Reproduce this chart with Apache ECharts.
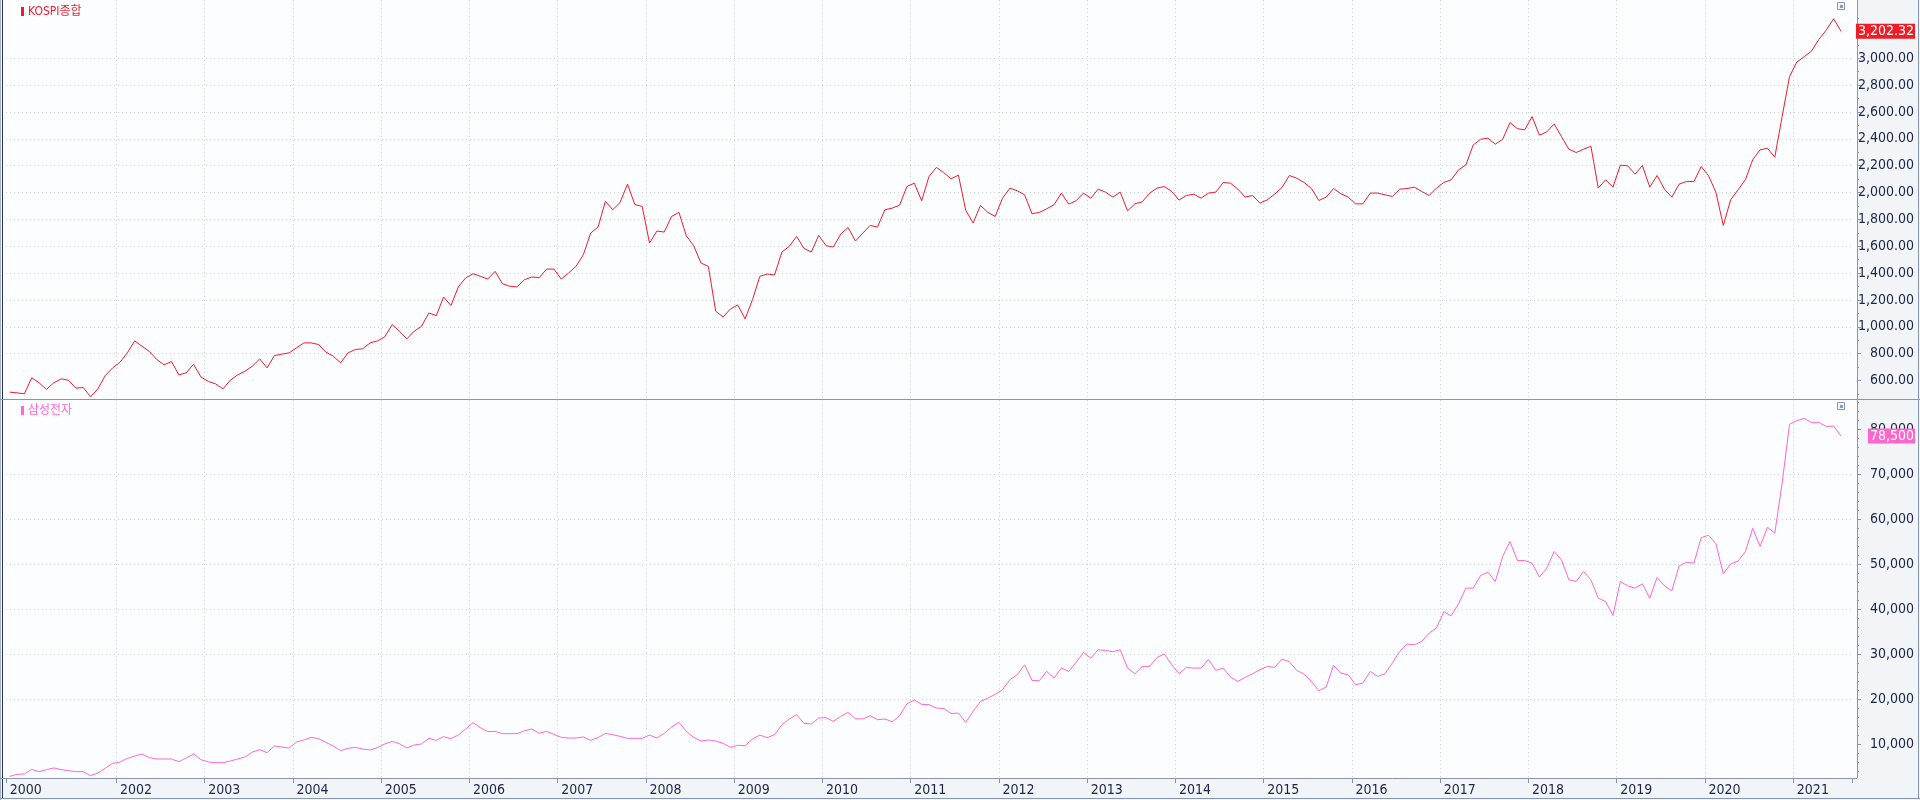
<!DOCTYPE html>
<html><head><meta charset="utf-8">
<script src="https://cdn.jsdelivr.net/npm/echarts@6/dist/echarts.min.js"></script>
<style>html,body{margin:0;padding:0;background:#f2f5f7}#c{width:1920px;height:800px}</style>
</head><body><div id="c"></div>
<script>
// ---- data (monthly closes, Oct 2000 .. Jul 2021) ----
const startYear = 2000, startMonth = 10, monthCount = 251; // one trailing empty month on the axis
const months = [];
for (let i = 0; i < monthCount; i++) { const t = startMonth - 1 + i; months.push((startYear + Math.floor(t / 12)) + '-' + String(t % 12 + 1).padStart(2, '0')); }

const kospi = [
  513, 508, 501,
  620, 583, 533, 583, 612, 602, 543, 548, 479, 538, 637, 694,
  736, 806, 895, 855, 816, 756, 717, 741, 642, 657, 721, 627,
  593, 575, 538, 602, 642, 669, 707, 761, 694, 786, 796, 806,
  843, 880, 880, 868, 811, 781, 731, 806, 831, 836, 880, 895,
  925, 1016, 967, 910, 967, 1004, 1103, 1083, 1222, 1158, 1297, 1364,
  1396, 1376, 1356, 1413, 1321, 1302, 1297, 1351, 1371, 1366, 1430, 1430,
  1356, 1401, 1450, 1537, 1698, 1743, 1934, 1872, 1926, 2063, 1911, 1897,
  1624, 1713, 1706, 1822, 1852, 1678, 1604, 1475, 1450, 1116, 1073, 1133,
  1163, 1059, 1202, 1376, 1393, 1386, 1557, 1599, 1673, 1584, 1557, 1681,
  1604, 1594, 1691, 1740, 1639, 1698, 1755, 1743, 1872, 1884, 1906, 2045,
  2070, 1939, 2120, 2187, 2149, 2102, 2130, 1867, 1773, 1904, 1852, 1822,
  1958, 2033, 2013, 1983, 1842, 1852, 1879, 1909, 1996, 1914, 1939, 1996,
  1958, 2025, 2003, 1966, 2003, 1864, 1916, 1931, 1996, 2033, 2045, 2008,
  1944, 1978, 1988, 1958, 1996, 2003, 2075, 2070, 2025, 1966, 1978, 1921,
  1946, 1988, 2038, 2127, 2107, 2075, 2030, 1941, 1966, 2030, 1991, 1966,
  1916, 1916, 1996, 1996, 1983, 1971, 2025, 2030, 2040, 2008, 1978, 2033,
  2075, 2095, 2169, 2206, 2355, 2397, 2405, 2360, 2397, 2521, 2476, 2467,
  2566, 2427, 2452, 2511, 2417, 2323, 2298, 2323, 2345, 2033, 2095, 2040,
  2204, 2199, 2137, 2201, 2040, 2127, 2025, 1966, 2063, 2082, 2082, 2194,
  2125, 2001, 1755, 1946, 2020, 2095, 2244, 2318, 2330, 2263, 2566, 2863,
  2972, 3012, 3054, 3141, 3210, 3295, 3202.32
];
const samsung = [
  2800, 3260, 3330,
  4370, 3850, 4300, 4670, 4300, 4070, 3850, 3850, 2960, 3560, 4590, 5700,
  6000, 6800, 7330, 7780, 6960, 6670, 6670, 6670, 6070, 6890, 7780, 6520,
  6000, 5850, 5850, 6220, 6670, 7110, 8220, 8740, 8070, 9560, 9330, 9110,
  10440, 10890, 11480, 11190, 10370, 9560, 8520, 9040, 9260, 8890, 8670, 9190,
  10000, 10590, 10070, 9110, 9780, 10000, 11260, 10820, 11630, 11190, 12000, 13330,
  14740, 13630, 12740, 12820, 12300, 12300, 12300, 12960, 13330, 12370, 12820, 12150,
  11480, 11330, 11330, 11560, 10820, 11410, 12370, 12070, 11700, 11260, 11260, 11260,
  12000, 11330, 12370, 13780, 14820, 12820, 11480, 10670, 10890, 10670, 10150, 9260,
  9700, 9630, 11110, 12000, 11410, 12070, 14300, 15560, 16520, 14590, 14440, 15780,
  15850, 15040, 16150, 17040, 15630, 15560, 16300, 15410, 15560, 14960, 16300, 18960,
  19780, 18820, 18740, 18000, 17890, 16780, 16890, 14810, 17260, 19480, 20220, 21040,
  22070, 24300, 25410, 27630, 24150, 24070, 26150, 24670, 26890, 26150, 28150, 30370,
  29110, 30960, 30810, 30520, 30960, 26890, 25630, 27260, 27260, 29260, 30000, 27630,
  25630, 27040, 26890, 26890, 28810, 26370, 26890, 24890, 23930, 24810, 25630, 26520,
  27260, 27040, 28890, 28300, 26370, 25560, 23930, 21850, 22670, 27480, 25780, 25410,
  23190, 23560, 26150, 25040, 25630, 28000, 30590, 32220, 32070, 32810, 34670, 35780,
  39410, 38520, 41190, 44670, 44670, 47480, 48220, 46150, 51700, 55040, 50810, 50810,
  50220, 47110, 49110, 52810, 50960, 46520, 46150, 48370, 46520, 42440, 41700, 38590,
  46150, 45190, 44670, 45630, 42440, 47040, 45190, 44070, 49630, 50440, 50220, 55930,
  56440, 54520, 47850, 50070, 50670, 52810, 58000, 53930, 58220, 56890, 68000, 81110,
  81930, 82440, 81480, 81560, 80590, 80740, 78500
];
const kospiLabels = [600, 800, 1000, 1200, 1400, 1600, 1800, 2000, 2200, 2400, 2600, 2800, 3000, 3200];
const kospiMinor = [500, 700, 900, 1100, 1300, 1500, 1700, 1900, 2100, 2300, 2500, 2700, 2900, 3100, 3300];
const samsungLabels = [10000, 20000, 30000, 40000, 50000, 60000, 70000, 80000];
const samsungMinor = [4000, 6000, 8000, 12000, 14000, 16000, 18000, 22000, 24000, 26000, 28000, 32000, 34000, 36000, 38000,
  42000, 44000, 46000, 48000, 52000, 54000, 56000, 58000, 62000, 64000, 66000, 68000, 72000, 74000, 76000, 78000, 82000, 84000, 86000];
const kospiName = 'KOSPI종합', samsungName = '삼성전자';

// ---- style ----
const FONT = "'Liberation Sans Narrow','Arial Narrow','DejaVu Sans Condensed','Liberation Sans','Noto Sans CJK KR',sans-serif";
const TXT = '#1c2548', AX = '#8795b3', GRID = '#cdd3dc';
const RED = '#f01c2c', PINK = '#ff66d6';
const isJan = i => (startMonth - 1 + i) % 12 === 0;
const showLab = i => i === 0 || (isJan(i) && i !== 3);
const fmtK = v => Number(v).toLocaleString('en-US', { minimumFractionDigits: 2, maximumFractionDigits: 2 });
const fmtS = v => Number(v).toLocaleString('en-US');

const chart = echarts.init(document.getElementById('c'), null, { renderer: 'canvas' });
const split = { show: true, showMinLine: false, showMaxLine: false, lineStyle: { color: GRID, type: [1, 3], width: 1 } };
const xCommon = { type: 'category', data: months, boundaryGap: true };
const gridL = 6, gridR = 68;

chart.setOption({
  animation: false,
  backgroundColor: '#f2f5f7',
  grid: [
    { left: gridL, right: gridR, top: 0, height: 398 },
    { left: gridL, right: gridR, top: 400, height: 378 }
  ],
  xAxis: [
    Object.assign({ gridIndex: 0, axisLine: { show: false }, axisTick: { show: false }, axisLabel: { show: false },
      splitLine: Object.assign({}, split, { interval: (i) => isJan(i) }) }, xCommon),
    Object.assign({ gridIndex: 1, axisLine: { show: false },
      axisTick: { show: true, length: 5, interval: (i) => showLab(i), lineStyle: { color: AX } },
      axisLabel: { show: true, interval: (i) => showLab(i), formatter: v => v.slice(0, 4), align: 'left', margin: 5,
        color: TXT, fontSize: 14, fontFamily: FONT },
      splitLine: Object.assign({}, split, { interval: (i) => isJan(i) }) }, xCommon)
  ],
  yAxis: [
    { gridIndex: 0, type: 'value', position: 'right', offset: 5, min: 469.6, max: 3434.3, splitNumber: 15,
      axisLine: { show: false },
      axisTick: { show: true, length: 4, customValues: kospiLabels, lineStyle: { color: AX } },
      axisLabel: { show: true, customValues: kospiLabels, formatter: fmtK, align: 'right', margin: 57, color: TXT, fontSize: 14, fontFamily: FONT },
      splitLine: split },
    { gridIndex: 0, type: 'value', position: 'right', offset: 5, min: 469.6, max: 3434.3,
      axisLine: { show: false }, axisLabel: { show: false }, splitLine: { show: false },
      axisTick: { show: true, length: 2, customValues: kospiMinor, lineStyle: { color: AX } } },
    { gridIndex: 1, type: 'value', position: 'right', offset: 5, min: 2438, max: 86517, splitNumber: 8,
      axisLine: { show: false },
      axisTick: { show: true, length: 4, customValues: samsungLabels, lineStyle: { color: AX } },
      axisLabel: { show: true, customValues: samsungLabels, formatter: fmtS, align: 'right', margin: 57, color: TXT, fontSize: 14, fontFamily: FONT },
      splitLine: split },
    { gridIndex: 1, type: 'value', position: 'right', offset: 5, min: 2438, max: 86517,
      axisLine: { show: false }, axisLabel: { show: false }, splitLine: { show: false },
      axisTick: { show: true, length: 2, customValues: samsungMinor, lineStyle: { color: AX } } }
  ],
  series: [
    { name: kospiName, type: 'line', xAxisIndex: 0, yAxisIndex: 0, data: kospi, symbol: 'none', silent: true,
      lineStyle: { width: 1, color: RED }, itemStyle: { color: RED }, emphasis: { disabled: true } },
    { name: samsungName, type: 'line', xAxisIndex: 1, yAxisIndex: 2, data: samsung, symbol: 'none', silent: true,
      lineStyle: { width: 1, color: PINK }, itemStyle: { color: PINK }, emphasis: { disabled: true } }
  ]
});

// frame, legends and last-value tags
const yK = chart.convertToPixel({ yAxisIndex: 0 }, kospi[kospi.length - 1]);
const yS = chart.convertToPixel({ yAxisIndex: 2 }, samsung[samsung.length - 1]);
const line = (x1, y1, x2, y2, c) => ({ type: 'line', z: 20, silent: true, shape: { x1, y1, x2, y2 }, style: { stroke: c, lineWidth: 1 } });
const icon = (y) => [
  { type: 'rect', z: 20, shape: { x: 1837.5, y: y + 0.5, width: 7, height: 7 }, style: { fill: '#eef2f7', stroke: '#8a9ab8', lineWidth: 1 } },
  { type: 'rect', z: 21, shape: { x: 1840, y: y + 3, width: 3, height: 3 }, style: { fill: '#8a9ab8' } }
];
chart.setOption({
  graphic: [
    { type: 'rect', z: -10, silent: true, shape: { x: 3, y: 0, width: 1854, height: 399 }, style: { fill: '#fbfdfe' } },
    { type: 'rect', z: -10, silent: true, shape: { x: 3, y: 400, width: 1854, height: 378 }, style: { fill: '#fbfdfe' } },
    line(0.5, 0, 0.5, 800, '#aab4c8'),
    line(2.5, 0, 2.5, 799, '#28345a'),
    line(0, 399.5, 1920, 399.5, AX),
    line(0, 778.5, 1857, 778.5, AX),
    line(1857.5, 0, 1857.5, 778, AX),
    line(0, 798.5, 1920, 798.5, AX),
    line(1918.5, 0, 1918.5, 799, AX),
    ...icon(2), ...icon(402),
    { type: 'rect', z: 20, shape: { x: 21, y: 7, width: 3, height: 9 }, style: { fill: RED } },
    { type: 'text', z: 20, style: { x: 28, y: 11.5, text: kospiName, fill: RED, font: "12px " + FONT, verticalAlign: 'middle' } },
    { type: 'rect', z: 20, shape: { x: 21, y: 406, width: 3, height: 9 }, style: { fill: PINK } },
    { type: 'text', z: 20, style: { x: 28, y: 410.5, text: samsungName, fill: PINK, font: "12px " + FONT, verticalAlign: 'middle' } },
    { type: 'text', z: 30, style: { x: 1915, y: yK, text: fmtK(kospi[kospi.length - 1]), fill: '#ffffff', font: "14px " + FONT,
      align: 'right', verticalAlign: 'middle', backgroundColor: '#ee1c25', padding: [1, 1, 0, 2] } },
    { type: 'text', z: 30, style: { x: 1915, y: yS, text: fmtS(samsung[samsung.length - 1]), fill: '#ffffff', font: "14px " + FONT,
      align: 'right', verticalAlign: 'middle', backgroundColor: '#ff66cc', padding: [1, 1, 0, 2] } }
  ]
});
</script>
</body></html>
